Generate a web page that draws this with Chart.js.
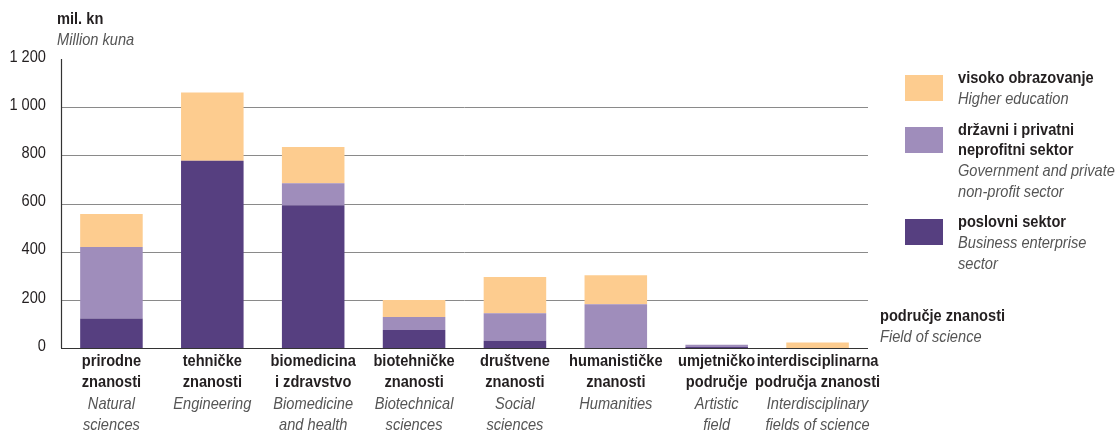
<!DOCTYPE html>
<html>
<head>
<meta charset="utf-8">
<script src="https://cdn.jsdelivr.net/npm/chart.js@4"></script>
<style>
  html, body { margin: 0; padding: 0; background: #fff; }
  #wrap { width: 1119px; height: 437px; position: relative; }
</style>
</head>
<body>
<div id="wrap"><canvas id="rdChart" width="1119" height="437"></canvas></div>
<script>
// podaci (mil. kn)
const categoriesHr = [
    ['prirodne', 'znanosti'],
    ['tehničke', 'znanosti'],
    ['biomedicina', 'i zdravstvo'],
    ['biotehničke', 'znanosti'],
    ['društvene', 'znanosti'],
    ['humanističke', 'znanosti'],
    ['umjetničko', 'područje'],
    ['interdisciplinarna', 'područja znanosti']
];
const categoriesEn = [
    ['Natural', 'sciences'],
    ['Engineering'],
    ['Biomedicine', 'and health'],
    ['Biotechnical', 'sciences'],
    ['Social', 'sciences'],
    ['Humanities'],
    ['Artistic', 'field'],
    ['Interdisciplinary', 'fields of science']
];
const businessValues   = [122, 778, 593, 75, 30, 0, 4, 0];
const governmentValues = [297, 0, 91, 54, 114, 182, 10, 0];
const higherEduValues  = [137, 283, 151, 70, 151, 120, 0, 23];
const yTicks = [0, 200, 400, 600, 800, 1000, 1200];

const colDark = '#563f80';
const colLight = '#9f8dbb';
const colPeach = '#fdcc8f';
const FONT = "'Liberation Sans', Arial, sans-serif";
const SQUEEZE = 0.86; // uski font kao u originalu

const legendItems = [
    { color: colPeach, top: 75, hr: ['visoko obrazovanje'], en: ['Higher education'] },
    { color: colLight, top: 127, hr: ['državni i privatni', 'neprofitni sektor'], en: ['Government and private', 'non-profit sector'] },
    { color: colDark, top: 219, hr: ['poslovni sektor'], en: ['Business enterprise', 'sector'] }
];

// tekst stisnut vodoravno
function narrowText(ctx, text, x, y, align) {
    const w = ctx.measureText(text).width * SQUEEZE;
    let left = x;
    if (align === 'center') left = x - w / 2;
    else if (align === 'right') left = x - w;
    ctx.save();
    ctx.translate(left, y);
    ctx.scale(SQUEEZE, 1);
    ctx.textAlign = 'left';
    ctx.fillText(text, 0, 0);
    ctx.restore();
}

function formatTick(v) {
    return String(v).replace(/\B(?=(\d{3})+(?!\d))/g, ' ');
}

// mreža, osi i tekstovi
const decorPlugin = {
    id: 'decor',
    beforeDatasetsDraw(chart) {
        const ctx = chart.ctx;
        const ys = chart.scales.y;
        const area = chart.chartArea;
        ctx.save();
        ctx.lineWidth = 1;
        ctx.strokeStyle = '#8a8a8a';
        yTicks.forEach(function(v) {
            if (v === 0 || v === 1200) return;
            const y = Math.round(ys.getPixelForValue(v)) + 0.5;
            ctx.beginPath();
            ctx.moveTo(area.left, y);
            ctx.lineTo(area.right, y);
            ctx.stroke();
        });
        ctx.restore();
    },
    afterDatasetsDraw(chart) {
        const ctx = chart.ctx;
        const xs = chart.scales.x;
        const ys = chart.scales.y;
        const area = chart.chartArea;
        ctx.save();
        // osi
        ctx.strokeStyle = '#333';
        ctx.lineWidth = 1.2;
        ctx.beginPath();
        ctx.moveTo(area.left + 0.5, area.top);
        ctx.lineTo(area.left + 0.5, ys.getPixelForValue(0));
        ctx.stroke();
        ctx.beginPath();
        const y0 = Math.round(ys.getPixelForValue(0)) + 0.5;
        ctx.moveTo(area.left, y0);
        ctx.lineTo(area.right, y0);
        ctx.stroke();

        ctx.textBaseline = 'middle';

        // oznake osi y
        ctx.fillStyle = '#231f20';
        ctx.font = '17px ' + FONT;
        yTicks.forEach(function(v) {
            narrowText(ctx, formatTick(v), 46, ys.getPixelForValue(v) - 2, 'right');
        });

        // nazivi kategorija
        categoriesHr.forEach(function(lines, i) {
            const x = xs.getPixelForValue(i);
            let y = 361;
            ctx.fillStyle = '#231f20';
            ctx.font = 'bold 17px ' + FONT;
            lines.forEach(function(t) { narrowText(ctx, t, x, y, 'center'); y += 21.5; });
            ctx.fillStyle = '#555';
            ctx.font = 'italic 17px ' + FONT;
            categoriesEn[i].forEach(function(t) { narrowText(ctx, t, x, y, 'center'); y += 21.5; });
        });

        // jedinica
        ctx.fillStyle = '#231f20';
        ctx.font = 'bold 17px ' + FONT;
        narrowText(ctx, 'mil. kn', 57, 19, 'left');
        ctx.fillStyle = '#555';
        ctx.font = 'italic 17px ' + FONT;
        narrowText(ctx, 'Million kuna', 57, 40, 'left');

        // legenda
        legendItems.forEach(function(item) {
            ctx.fillStyle = item.color;
            ctx.fillRect(905, item.top, 38, 26);
            let y = item.top + 3;
            ctx.fillStyle = '#231f20';
            ctx.font = 'bold 17px ' + FONT;
            item.hr.forEach(function(t) { narrowText(ctx, t, 958, y, 'left'); y += 20; });
            y += 1;
            ctx.fillStyle = '#555';
            ctx.font = 'italic 17px ' + FONT;
            item.en.forEach(function(t) { narrowText(ctx, t, 958, y, 'left'); y += 21; });
        });

        ctx.fillStyle = '#231f20';
        ctx.font = 'bold 17px ' + FONT;
        narrowText(ctx, 'područje znanosti', 880, 316, 'left');
        ctx.fillStyle = '#555';
        ctx.font = 'italic 17px ' + FONT;
        narrowText(ctx, 'Field of science', 880, 337, 'left');
        ctx.restore();
    }
};

const ctx = document.getElementById('rdChart').getContext('2d');
const rdChart = new Chart(ctx, {
    type: 'bar',
    data: {
        labels: categoriesHr.map(function(l) { return l.join(' '); }),
        datasets: [{
            label: 'poslovni sektor',
            data: businessValues,
            backgroundColor: colDark
        }, {
            label: 'državni i privatni neprofitni sektor',
            data: governmentValues,
            backgroundColor: colLight
        }, {
            label: 'visoko obrazovanje',
            data: higherEduValues,
            backgroundColor: colPeach
        }]
    },
    options: {
        responsive: false,
        animation: false,
        devicePixelRatio: 1,
        layout: {
            padding: { left: 0, top: 59, right: 251, bottom: 89 }
        },
        datasets: {
            bar: { barPercentage: 0.62, categoryPercentage: 1.0, borderWidth: 0 }
        },
        plugins: {
            legend: { display: false },
            tooltip: { enabled: false }
        },
        scales: {
            x: {
                stacked: true,
                grid: { display: false },
                border: { display: false },
                ticks: { display: false },
                afterFit: function(scale) { scale.height = 0; }
            },
            y: {
                stacked: true,
                min: 0,
                max: 1200,
                grid: { display: false },
                border: { display: false },
                ticks: { display: false },
                afterFit: function(scale) { scale.width = 61; },
                afterBuildTicks: function(scale) {
                    scale.ticks = yTicks.map(function(v) { return { value: v }; });
                }
            }
        }
    },
    plugins: [decorPlugin]
});
</script>
</body>
</html>
